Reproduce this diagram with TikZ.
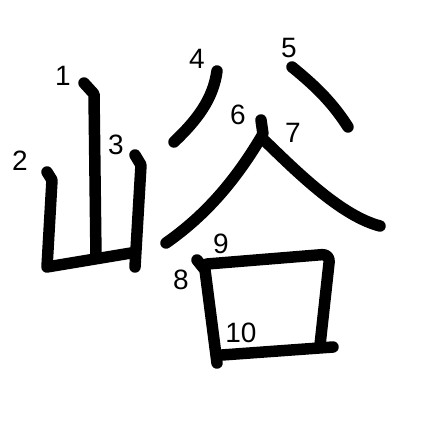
\documentclass[tikz,border=0pt]{standalone}
\usepackage{fontspec}
\setmainfont{Liberation Sans}
\usepackage{tikz}
\tikzset{
	stroke/.style={line width=11.5pt, line cap=round, line join=round}, % one brush stroke
	num/.style={font=\fontsize{28}{28}\selectfont, inner sep=0pt}, % stroke order number
}

\begin{document}
\begin{tikzpicture}[x=1pt, y=-1pt]
	\useasboundingbox (0,0) rectangle (447,447);
	% the mountain radical
	\draw[stroke] (84,83) -- (94,94) -- (96,258);
	\draw[stroke] (47,172) -- (52,180) -- (47,267) -- (131,253);
	\draw[stroke] (135,155) -- (141,165) -- (135,267);
	% the two dots on top
	\draw[stroke] (217,71) .. controls (213,100) and (196,121) .. (174,142);
	\draw[stroke] (292,67) .. controls (318,88) and (334,105) .. (348,127);
	% the roof
	\draw[stroke] (261,120) -- (263,134) .. controls (236,180) and (206,215) .. (166,243);
	\draw[stroke] (265,141) .. controls (300,175) and (342,216) .. (380,226);
	% the mouth
	\draw[stroke] (197,260) -- (205,270) -- (217,363);
	\draw[stroke, rounded corners=8pt] (207,264) -- (330,254) -- (320,345);
	\draw[stroke] (222,355) -- (333,347);
	% numbers
	\node[num] (n1) at (63,76) {1};
	\node[num] (n2) at (20,161) {2};
	\node[num] (n3) at (116,145) {3};
	\node[num] (n4) at (197,59) {4};
	\node[num] (n5) at (289,48) {5};
	\node[num] (n6) at (238,115) {6};
	\node[num] (n7) at (293,133) {7};
	\node[num] (n8) at (181,280) {8};
	\node[num] (n9) at (221,244) {9};
	\node[num] (n10) at (241,333) {10};
\end{tikzpicture}
\end{document}
